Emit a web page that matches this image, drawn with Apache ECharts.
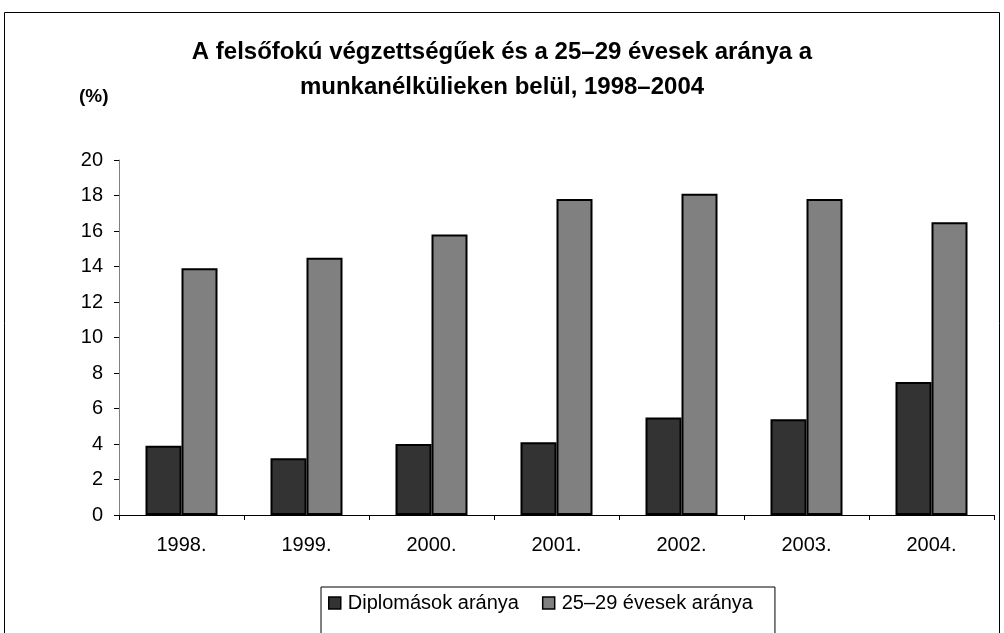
<!DOCTYPE html>
<html>
<head>
<meta charset="utf-8">
<script src="https://cdn.jsdelivr.net/npm/echarts@6/dist/echarts.min.js"></script>
<style>
  html, body { margin: 0; padding: 0; background: #fff; }
  #main { width: 1004px; height: 633px; }
</style>
</head>
<body>
<div id="main"></div>
<script>
// évek
var years = ['1998.', '1999.', '2000.', '2001.', '2002.', '2003.', '2004.'];
// Diplomások aránya (%)
var diplomasok = [3.9, 3.2, 4.0, 4.1, 5.5, 5.4, 7.5];
// 25–29 évesek aránya (%)
var fiatalok = [13.9, 14.5, 15.8, 17.8, 18.1, 17.8, 16.5];

var myChart = echarts.init(document.getElementById('main'));
var font = 'Arial, "Liberation Sans", sans-serif';

var option = {
    backgroundColor: '#ffffff',
    animation: false,
    textStyle: { fontFamily: font, color: '#000' },
    title: {
        text: 'A felsőfokú végzettségűek és a 25–29 évesek aránya a\nmunkanélkülieken belül, 1998–2004',
        left: 'center',
        top: 30,
        textStyle: {
            fontFamily: font,
            fontSize: 24,
            fontWeight: 'bold',
            color: '#000',
            lineHeight: 35
        }
    },
    graphic: [
        {   // keret
            type: 'rect',
            shape: { x: 4.5, y: 12.5, width: 995, height: 640 },
            style: { fill: 'none', stroke: '#000', lineWidth: 1 },
            silent: true
        },
        {
            type: 'text',
            left: 79,
            top: 87,
            style: { text: '(%)', font: 'bold 19px ' + font, fill: '#000' }
        }
    ],
    legend: {
        data: ['Diplomások aránya', '25–29 évesek aránya'],
        left: 321,
        top: 587,
        padding: [6, 22, 30, 7],
        borderColor: '#000',
        borderWidth: 1,
        itemWidth: 12,
        itemHeight: 12,
        itemGap: 23,
        icon: 'rect',
        itemStyle: { borderColor: '#000', borderWidth: 1.5 },
        textStyle: { fontFamily: font, fontSize: 20, color: '#000', padding: [0, 0, 0, 2] }
    },
    grid: {
        left: 119,
        right: 10,
        top: 160,
        bottom: 118,
        containLabel: false
    },
    xAxis: [{
        type: 'category',
        data: years,
        boundaryGap: true,
        axisLine: { lineStyle: { color: '#000', width: 1 } },
        axisTick: { show: true, length: 5, lineStyle: { color: '#000' } },
        axisLabel: { fontSize: 20, color: '#000', margin: 20, fontFamily: font }
    }],
    yAxis: [{
        type: 'value',
        min: 0,
        max: 20,
        interval: 2,
        axisLine: { show: true, lineStyle: { color: '#808080', width: 1 } },
        axisTick: { show: true, length: 5, lineStyle: { color: '#000' } },
        splitLine: { show: false },
        axisLabel: { fontSize: 20, color: '#000', margin: 16, fontFamily: font }
    }],
    series: [
        {
            name: 'Diplomások aránya',
            type: 'bar',
            barWidth: 36,
            barGap: '0%',
            itemStyle: { color: '#333333', borderColor: '#000', borderWidth: 2 },
            data: diplomasok
        },
        {
            name: '25–29 évesek aránya',
            type: 'bar',
            barWidth: 36,
            barGap: '0%',
            itemStyle: { color: '#808080', borderColor: '#000', borderWidth: 2 },
            data: fiatalok
        }
    ]
};

myChart.setOption(option);
</script>
</body>
</html>
